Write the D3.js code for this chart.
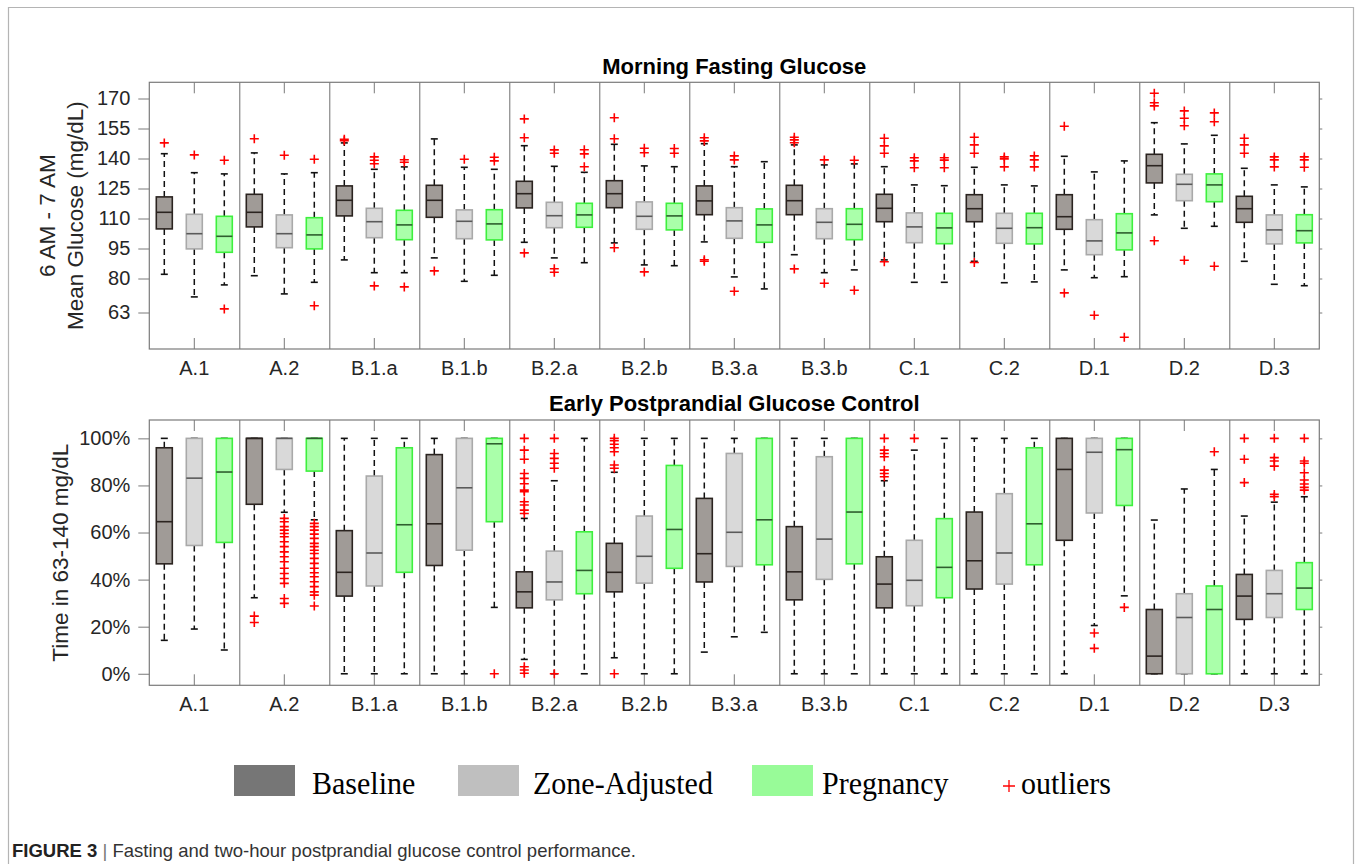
<!DOCTYPE html>
<html>
<head>
<meta charset="utf-8">
<script src="https://cdn.jsdelivr.net/npm/d3@7"></script>
<style>
  html, body { margin: 0; padding: 0; background: #fff; }
  svg { display: block; }
</style>
</head>
<body>
<svg id="chart" width="1356" height="864"></svg>
<script>
// ---------------- DATA ----------------
const categories = ["A.1","A.2","B.1.a","B.1.b","B.2.a","B.2.b","B.3.a","B.3.b","C.1","C.2","D.1","D.2","D.3"];
const seriesNames = ["Baseline","Zone-Adjusted","Pregnancy"];
const fastingTicks = [63, 80, 95, 110, 125, 140, 155, 170];
const postTicks = [0, 20, 40, 60, 80, 100];

// stats: [lower whisker, Q1, median, Q3, upper whisker]
const fastingBaseline = [
  [82.1,104.8,113.1,120.8,142.4],[81.4,105.8,113.1,122.1,142.8],[89.3,111.3,119.1,126.3,147.8],
  [90.3,110.6,119.1,126.6,149.8],[98.1,115.3,122.4,128.6,146.4],[97.8,115.4,122.4,128.9,147.1],
  [98.3,111.9,118.8,126.3,147.4],[91.9,111.9,118.9,126.6,146.8],[89.3,108.4,115.1,122.1,135.9],
  [88.6,108.4,114.9,121.9,135.6],[84.3,104.6,110.9,121.9,141.1],[111.8,127.8,136.4,142.1,157.9],
  [88.6,108.1,114.9,121.1,135.1]];
const fastingBaselineOut = [
  [147.8],[149.9],[149.6,148.9],[83.8],[159.8,150.4,92.8],[160.4,149.9,95.4],[150.4,148.8,89.4,88.6],
  [150.6,149.3,147.9,84.8],[150.1,146.3,142.6,88.4],[150.6,146.8,142.6,88.0],[156.1,72.8],
  [172.6,167.9,166.3,98.9],[150.1,146.8,142.6]];
const fastingZone = [
  [70.8,94.8,102.4,112.1,132.9],[72.3,95.4,102.4,111.8,132.3],[82.9,100.4,108.4,115.1,134.6],
  [78.6,99.9,108.6,114.3,135.6],[90.3,105.4,111.4,118.1,136.1],[86.8,104.6,111.1,118.3,136.3],
  [80.8,100.1,108.8,115.4,135.9],[82.9,99.9,108.1,114.9,136.8],[78.1,97.9,105.8,112.8,126.8],
  [77.9,97.6,105.1,112.6,126.8],[80.4,91.9,98.8,109.4,133.3],[105.1,118.9,127.1,132.1,147.3],
  [77.1,97.3,104.3,111.8,126.8]];
const fastingZoneOut = [
  [141.8],[141.6],[140.8,139.1,137.4,76.3],[139.6],[144.3,142.6,84.9,83.1],[145.1,142.9,83.3],
  [141.3,139.3,73.6],[139.3,77.6],[140.4,138.8,135.4],[140.8,139.8,135.8],[61.6],
  [163.8,160.1,156.4,89.1],[140.8,139.3,135.8]];
const fastingPreg = [
  [76.8,93.1,101.1,111.1,132.3],[78.1,94.8,101.8,110.4,132.9],[82.9,99.4,106.8,114.1,135.8],
  [81.6,99.3,107.3,114.4,134.6],[87.9,105.6,111.8,117.6,133.1],[86.4,104.3,111.3,117.6,135.9],
  [74.8,98.1,106.8,114.8,138.4],[84.3,99.4,107.1,114.9,137.3],[78.1,97.4,105.3,112.6,126.4],
  [78.3,97.3,105.4,112.6,126.3],[80.9,94.3,102.8,112.4,138.8],[106.1,118.4,126.8,132.3,151.6],
  [76.4,97.8,103.9,111.9,125.8]];
const fastingPregOut = [
  [139.1,64.8],[139.6,66.4],[139.4,138.1,75.8],[140.6,138.8],[144.4,142.3,135.9],[145.0,142.6],
  [],[139.1,74.1],[140.4,139.2,135.4],[141.3,139.3,135.8],[50.6],[162.8,158.4,86.1],[140.8,139.3,135.6]];

const postBaseline = [
  [14.2,46.7,64.6,96.0,100],[32.3,72.0,100,100,100],[0,33.0,43.1,60.8,100],[0,46.0,63.7,93.1,100],
  [6.1,28.0,34.8,43.3,66.0],[6.8,34.8,43.1,55.4,85.6],[9.2,39.0,51.0,74.5,100],[0,31.4,43.3,62.5,100],
  [0,28.0,38.1,49.7,82.0],[0,36.0,48.0,68.7,100],[0,56.7,86.8,100,100],[0,0,7.5,27.3,65.3],
  [0,23.1,33.0,42.2,67.0]];
const postBaselineOut = [
  [],[24.5,21.8],[],[],
  [100,95.0,91.1,85.1,83.0,80.7,78.0,77.3,73.1,71.7,69.5,68.1,3.0,1.6,0.2],
  [100,99.0,97.5,96.0,94.3,88.7,87.3,0],[],[],
  [100,95.0,93.6,92.2,86.5,85.1,83.7],[],[],[],[100,91.1,81.2]];
const postZone = [
  [19.0,54.5,83.1,100,100],[68.6,86.8,100,100,100],[0,37.3,51.3,84.0,100],[0,52.5,79.0,100,100],
  [0,31.4,39.0,52.1,82.0],[0,38.5,49.9,67.0,100],[15.7,45.6,60.1,93.6,100],[0,40.1,57.2,92.2,100],
  [0,28.9,39.7,56.7,95.0],[0,38.1,51.3,76.5,100],[20.5,68.3,94.1,100,100],[0,0,23.9,34.0,78.5],
  [0,23.9,34.0,43.9,72.9]];
const postZoneOut = [
  [],[66.0,64.6,62.5,61.0,59.6,58.2,56.1,54.0,51.8,49.7,47.6,44.8,42.6,40.5,38.4,32.0,29.9],[],[],
  [100,93.6,91.5,89.4,87.3,0],[],[],[],[100],[],[17.3,10.8],[],[100,91.8,90.4,88.2,76.2,75.2]];
const postPreg = [
  [10.1,55.8,85.7,100,100],[65.4,86.1,100,100,100],[0,43.1,63.3,96.0,100],[28.2,64.6,97.7,100,100],
  [0,34.0,43.9,60.3,100],[0,44.8,61.3,88.5,100],[17.6,46.3,65.4,100,100],[0,46.7,68.7,100,100],
  [0,32.3,45.2,65.9,100],[0,46.3,63.7,96.0,100],[33.1,71.5,95.2,100,100],[0,0,27.3,37.3,86.8],
  [0,27.3,36.4,47.2,75.2]];
const postPregOut = [
  [],[63.9,62.5,61.0,59.3,57.5,55.4,54.0,52.5,51.1,49.0,46.9,44.8,42.9,41.2,39.1,37.0,34.8,33.4,28.8],
  [],[0],[],[],[],[],[],[],[28.2],[94.3],[100,90.4,89.4,85.4,82.3,80.6,79.2,78.0]];

// ---------------- STYLE ----------------
const seriesStyle = {
  "Baseline":      {fill: "#a09b97", stroke: "#2b2420", median: "#2b2420"},
  "Zone-Adjusted": {fill: "#d9d9d9", stroke: "#a9a9a9", median: "#5a5a5a"},
  "Pregnancy":     {fill: "#aaffaa", stroke: "#3ef03e", median: "#2f5f2f"}
};
const legendColors = {"Baseline": "#767676", "Zone-Adjusted": "#bfbfbf", "Pregnancy": "#98fb98"};
const textColor = "#262626";
const axisColor = "#7a7a7a";
const sans = "'Liberation Sans', Arial, Helvetica, sans-serif";

const svg = d3.select("#chart");

// outer frame
svg.append("path")
  .attr("d", "M8.5,864V7.5H1353.5V864")
  .attr("fill", "none").attr("stroke", "#b4b4b4").attr("stroke-width", 1.2);

const xLeft = 149.3, xRight = 1319.3;
const groupX = d3.scaleBand().domain(categories).range([xLeft, xRight]).padding(0);
const seriesX = d3.scalePoint().domain(seriesNames).range([0, groupX.bandwidth()]).padding(0.5);
const boxW = 16, capW = 7;

function drawPanel(cfg) {
  const y = d3.scaleLinear().domain(cfg.domain).range([cfg.bottom, cfg.top]);
  const g = svg.append("g");

  // title
  g.append("text").attr("x", (xLeft + xRight) / 2).attr("y", cfg.titleY)
    .attr("text-anchor", "middle").attr("font-family", sans).attr("font-weight", "bold")
    .attr("font-size", 22).attr("fill", "#000").text(cfg.title);

  // group separators
  g.selectAll("line.sep").data(categories.slice(1)).enter().append("line")
    .attr("x1", d => groupX(d) + 0.5).attr("x2", d => groupX(d) + 0.5)
    .attr("y1", cfg.top).attr("y2", cfg.bottom)
    .attr("stroke", "#6e6e6e").attr("stroke-width", 1);

  // axes
  const left = g.append("g").attr("transform", `translate(${xLeft},0)`)
    .call(d3.axisLeft(y).tickValues(cfg.ticks).tickFormat(cfg.fmt).tickSize(11).tickSizeOuter(0).tickPadding(8));
  const right = g.append("g").attr("transform", `translate(${xRight},0)`)
    .call(d3.axisRight(y).tickValues(cfg.ticks).tickFormat("").tickSize(3).tickSizeOuter(0));
  const bottom = g.append("g").attr("transform", `translate(0,${cfg.bottom})`)
    .call(d3.axisBottom(groupX).tickSize(-11).tickSizeOuter(0).tickPadding(12));
  const topAx = g.append("g").attr("transform", `translate(0,${cfg.top})`)
    .call(d3.axisTop(groupX).tickSize(-11).tickSizeOuter(0).tickFormat(""));
  [left, right, bottom, topAx].forEach(a => {
    a.select(".domain").remove();
    a.selectAll("line").attr("stroke", axisColor);
    a.selectAll("text").attr("font-family", sans).attr("font-size", 20).attr("fill", textColor);
  });
  // axes box
  g.append("rect").attr("x", xLeft).attr("y", cfg.top).attr("width", xRight - xLeft)
    .attr("height", cfg.bottom - cfg.top).attr("fill", "none")
    .attr("stroke", axisColor).attr("stroke-width", 1.2);

  // y label
  const ylab = g.append("text").attr("transform", `translate(${cfg.ylabX},${(cfg.top + cfg.bottom) / 2}) rotate(-90)`)
    .attr("text-anchor", "middle").attr("font-family", sans).attr("font-size", 22.5).attr("fill", textColor);
  cfg.ylabel.forEach((line, i) => {
    ylab.append("tspan").attr("x", 0).attr("dy", i === 0 ? 0 : "1.25em").text(line);
  });

  // boxes
  seriesNames.forEach((s, si) => {
    const st = seriesStyle[s];
    const stats = cfg.stats[si];
    const outs = cfg.outs[si];
    const sg = g.append("g");
    const items = stats.map((d, i) => ({cat: categories[i], v: d, out: outs[i]}));
    const cx = d => groupX(d.cat) + seriesX(s);

    const it = sg.selectAll("g.item").data(items).enter().append("g");
    // whiskers (dashed)
    it.append("line").attr("x1", cx).attr("x2", cx)
      .attr("y1", d => y(d.v[3])).attr("y2", d => y(d.v[4]))
      .attr("stroke", "#111").attr("stroke-width", 1.5).attr("stroke-dasharray", "6,4");
    it.append("line").attr("x1", cx).attr("x2", cx)
      .attr("y1", d => y(d.v[1])).attr("y2", d => y(d.v[0]))
      .attr("stroke", "#111").attr("stroke-width", 1.5).attr("stroke-dasharray", "6,4");
    // caps
    [0, 4].forEach(k => {
      it.append("line").attr("x1", d => cx(d) - capW / 2).attr("x2", d => cx(d) + capW / 2)
        .attr("y1", d => y(d.v[k])).attr("y2", d => y(d.v[k]))
        .attr("stroke", "#111").attr("stroke-width", 1.6);
    });
    // box
    it.append("rect").attr("x", d => cx(d) - boxW / 2).attr("width", boxW)
      .attr("y", d => y(d.v[3])).attr("height", d => Math.max(0.5, y(d.v[1]) - y(d.v[3])))
      .attr("fill", st.fill).attr("stroke", st.stroke).attr("stroke-width", 1.6);
    // median
    it.append("line").attr("x1", d => cx(d) - boxW / 2).attr("x2", d => cx(d) + boxW / 2)
      .attr("y1", d => y(d.v[2])).attr("y2", d => y(d.v[2]))
      .attr("stroke", st.median).attr("stroke-width", 1.6);
    // outliers
    it.selectAll("path.out").data(d => d.out.map(o => ({cat: d.cat, o}))).enter().append("path")
      .attr("transform", d => `translate(${groupX(d.cat) + seriesX(s)},${y(d.o)})`)
      .attr("d", "M-4.5,0H4.5M0,-4.5V4.5")
      .attr("stroke", "#ff0000").attr("stroke-width", 1.6).attr("fill", "none");
  });
}

drawPanel({
  title: "Morning Fasting Glucose", titleY: 73.5,
  top: 82.3, bottom: 349, domain: [44.75, 178.1],
  ticks: fastingTicks, fmt: d3.format("d"),
  ylabel: ["6 AM - 7 AM", "Mean Glucose (mg/dL)"], ylabX: 55,
  stats: [fastingBaseline, fastingZone, fastingPreg],
  outs: [fastingBaselineOut, fastingZoneOut, fastingPregOut]
});
drawPanel({
  title: "Early Postprandial Glucose Control", titleY: 411,
  top: 420, bottom: 685.3, domain: [-4.9, 107.8],
  ticks: postTicks, fmt: d => d + "%",
  ylabel: ["Time in 63-140 mg/dL"], ylabX: 68,
  stats: [postBaseline, postZone, postPreg],
  outs: [postBaselineOut, postZoneOut, postPregOut]
});

// ---------------- LEGEND ----------------
const legendItems = [
  {name: "Baseline", sx: 234, tx: 312},
  {name: "Zone-Adjusted", sx: 458, tx: 533},
  {name: "Pregnancy", sx: 752, tx: 822}
];
const serif = "'Liberation Serif', 'Times New Roman', serif";
const lg = svg.append("g");
lg.selectAll("rect").data(legendItems).enter().append("rect")
  .attr("x", d => d.sx).attr("y", 765).attr("width", 61).attr("height", 31)
  .attr("fill", d => legendColors[d.name]);
lg.selectAll("text").data(legendItems).enter().append("text")
  .attr("transform", d => `translate(${d.tx},794) scale(1,1.06)`)
  .attr("font-family", serif).attr("font-size", 30)
  .attr("fill", "#000").text(d => d.name);
lg.append("path").attr("transform", "translate(1009,786)").attr("d", "M-6,0H6M0,-6V6")
  .attr("stroke", "#ff0000").attr("stroke-width", 1.3);
lg.append("text").attr("transform", "translate(1021,794) scale(1,1.06)")
  .attr("font-family", serif).attr("font-size", 30)
  .attr("fill", "#000").text("outliers");

// ---------------- CAPTION ----------------
const cap = svg.append("text").attr("x", 12).attr("y", 857)
  .attr("font-family", sans).attr("font-size", 18.5).attr("fill", "#333");
cap.append("tspan").attr("font-weight", "bold").attr("fill", "#222").text("FIGURE 3");
cap.append("tspan").attr("fill", "#777").text(" | ");
cap.append("tspan").text("Fasting and two-hour postprandial glucose control performance.");
</script>
</body>
</html>
